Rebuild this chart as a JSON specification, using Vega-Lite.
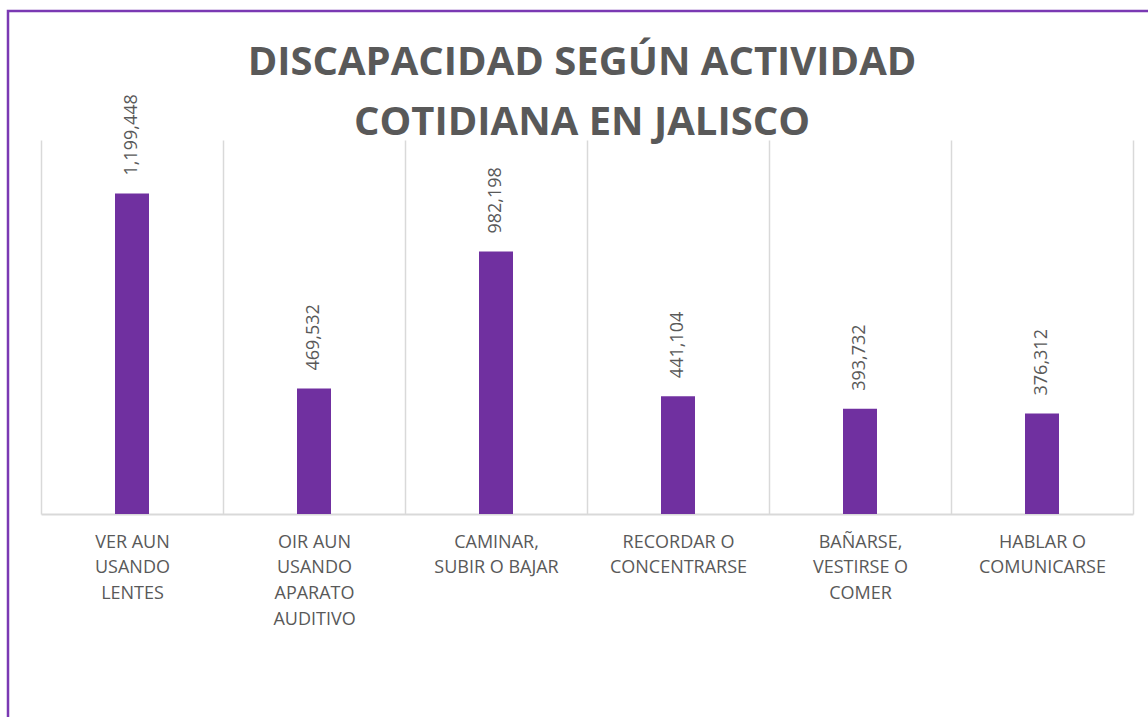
{
  "$schema": "https://vega.github.io/schema/vega-lite/v6.json",
  "autosize": "none",
  "width": 1140,
  "height": 706,
  "padding": {"left": 8, "top": 11, "right": 0, "bottom": 0},
  "background": "white",
  "config": {
    "view": {"stroke": "#7A39B3", "strokeWidth": 2.5, "strokeDash": [1140, 1846, 706]},
    "font": "Open Sans"
  },
  "title": {
    "text": ["DISCAPACIDAD SEGÚN ACTIVIDAD", "COTIDIANA EN JALISCO"],
    "anchor": "middle",
    "frame": "group",
    "font": "Open Sans",
    "fontSize": 40,
    "fontWeight": "bold",
    "color": "#595959",
    "lineHeight": 60,
    "baseline": "alphabetic",
    "offset": -164,
    "dx": 4
  },
  "data": {
    "values": [
      {"actividad": "VER AUN\nUSANDO\nLENTES", "personas": 1199448},
      {"actividad": "OIR AUN\nUSANDO\nAPARATO\nAUDITIVO", "personas": 469532},
      {"actividad": "CAMINAR,\nSUBIR O BAJAR", "personas": 982198},
      {"actividad": "RECORDAR O\nCONCENTRARSE", "personas": 441104},
      {"actividad": "BAÑARSE,\nVESTIRSE O\nCOMER", "personas": 393732},
      {"actividad": "HABLAR O\nCOMUNICARSE", "personas": 376312}
    ]
  },
  "encoding": {
    "x": {
      "field": "actividad",
      "type": "nominal",
      "sort": null,
      "title": null,
      "scale": {"range": [33, 1125], "paddingInner": 0, "paddingOuter": 0},
      "axis": {
        "offset": -203,
        "tickBand": "extent",
        "grid": false,
        "ticks": true,
        "tickSize": -374,
        "tickColor": "#d9d9d9",
        "tickWidth": 1.5,
        "domainColor": "#d9d9d9",
        "domainWidth": 2,
        "labelAngle": 0,
        "labelFont": "Open Sans",
        "labelFontSize": 18,
        "labelColor": "#595959",
        "labelLineHeight": 25.7,
        "labelBaseline": "top",
        "labelPadding": 393,
        "labelLimit": 0,
        "labelOverlap": false,
        "labelExpr": "split(datum.label, '\\n')"
      }
    },
    "y": {
      "field": "personas",
      "type": "quantitative",
      "scale": {"domain": [0, 1400000], "range": [503, 129], "nice": false},
      "axis": null
    }
  },
  "layer": [
    {"mark": {"type": "bar", "color": "#7030A0", "width": 34}},
    {
      "mark": {
        "type": "text",
        "angle": 270,
        "align": "left",
        "baseline": "middle",
        "dx": 18,
        "font": "Open Sans",
        "fontSize": 18,
        "color": "#595959"
      },
      "encoding": {"text": {"field": "personas", "type": "quantitative", "format": ","}}
    }
  ]
}
